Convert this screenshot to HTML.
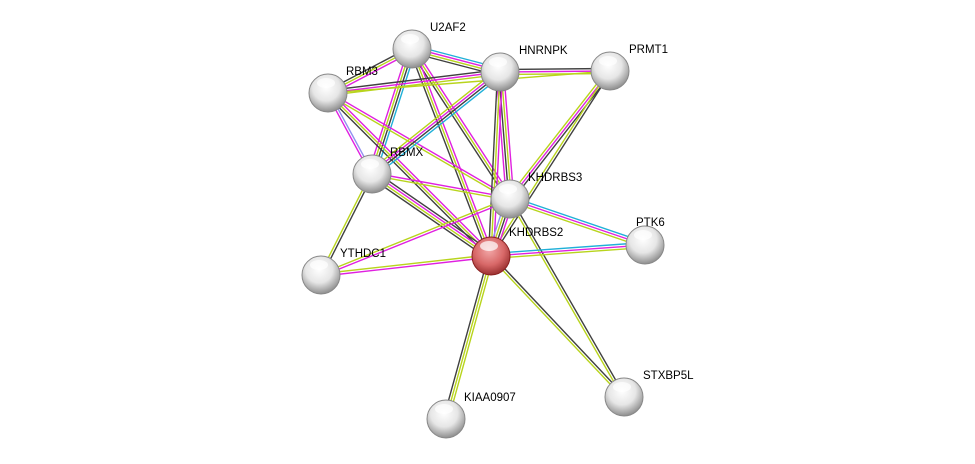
<!DOCTYPE html>
<html><head><meta charset="utf-8">
<style>
html,body{margin:0;padding:0;background:#fff;}
svg{display:block;}
text{font-family:"Liberation Sans",sans-serif;font-size:11.5px;fill:#000;}
</style></head>
<body>
<svg id="s" width="975" height="464" xmlns="http://www.w3.org/2000/svg">
<defs>
<radialGradient id="gw" cx="45%" cy="35%" r="65%">
<stop offset="0" stop-color="#ffffff"/><stop offset="0.55" stop-color="#e6e6e6"/><stop offset="1" stop-color="#8e8e8e"/>
</radialGradient>
<radialGradient id="gr" cx="45%" cy="35%" r="65%">
<stop offset="0" stop-color="#f2a8a8"/><stop offset="0.6" stop-color="#d86868"/><stop offset="1" stop-color="#9a3030"/>
</radialGradient>
</defs>
<g id="edges"></g>
<g id="nodes"></g>
</svg>
<script>
var N={U2AF2:[412,49],HNRNPK:[500,72],PRMT1:[610,71],RBM3:[328,93],RBMX:[372,174],KHDRBS3:[510,199],PTK6:[645,245],KHDRBS2:[491,256],YTHDC1:[321,275],KIAA0907:[446,419],STXBP5L:[624,397]};
var C={m:"#e020e0",y:"#b8d41c",k:"#404040",c:"#20b0d8",b:"#9090f0"};
var E=[["U2AF2","HNRNPK","cmyk"],["U2AF2","RBM3","myk"],["U2AF2","RBMX","ckym"],["U2AF2","KHDRBS3","myk"],["U2AF2","KHDRBS2","myk"],
["RBM3","HNRNPK","kmy"],["RBM3","PRMT1","y"],["HNRNPK","PRMT1","kmy"],["RBM3","RBMX","bm"],["RBM3","KHDRBS3","my"],["RBM3","KHDRBS2","myk"],
["HNRNPK","RBMX","ckmy"],["HNRNPK","KHDRBS3","mykm"],["HNRNPK","KHDRBS2","myk"],["PRMT1","KHDRBS3","kmy"],["PRMT1","KHDRBS2","ky"],
["RBMX","KHDRBS3","my"],["RBMX","KHDRBS2","kmyk"],["RBMX","YTHDC1","ky"],["KHDRBS3","KHDRBS2","mkyb"],["KHDRBS3","PTK6","cmy"],
["KHDRBS3","YTHDC1","my"],["KHDRBS3","STXBP5L","ky"],["KHDRBS2","PTK6","cmy"],["KHDRBS2","YTHDC1","my"],["KHDRBS2","KIAA0907","yyk"],["KHDRBS2","STXBP5L","ky"]];
var ns="http://www.w3.org/2000/svg",eg=document.getElementById("edges"),ng=document.getElementById("nodes");
E.forEach(function(e){var a=N[e[0]],b=N[e[1]],dx=b[0]-a[0],dy=b[1]-a[1],L=Math.hypot(dx,dy),px=-dy/L,py=dx/L,n=e[2].length;
for(var i=0;i<n;i++){var o=(i-(n-1)/2)*2.5,l=document.createElementNS(ns,"line");
l.setAttribute("x1",a[0]+px*o);l.setAttribute("y1",a[1]+py*o);l.setAttribute("x2",b[0]+px*o);l.setAttribute("y2",b[1]+py*o);
l.setAttribute("stroke",C[e[2][i]]);l.setAttribute("stroke-width","1.4");eg.appendChild(l);}});
var LB={U2AF2:[18,-22],HNRNPK:[19,-22],PRMT1:[19,-22],RBM3:[18,-22],RBMX:[18,-22],KHDRBS3:[18,-22],PTK6:[-9,-23],KHDRBS2:[18,-24],YTHDC1:[19,-22],KIAA0907:[18,-22],STXBP5L:[19,-22]};
for(var k in N){var p=N[k],c=document.createElementNS(ns,"circle");c.setAttribute("cx",p[0]);c.setAttribute("cy",p[1]);c.setAttribute("r",19);
c.setAttribute("fill",k=="KHDRBS2"?"url(#gr)":"url(#gw)");c.setAttribute("stroke",k=="KHDRBS2"?"#8a2020":"#888");c.setAttribute("stroke-width","1");ng.appendChild(c);
var h=document.createElementNS(ns,"ellipse");h.setAttribute("cx",p[0]-2);h.setAttribute("cy",p[1]-10);h.setAttribute("rx",9);h.setAttribute("ry",5);h.setAttribute("fill","#fff");h.setAttribute("opacity","0.7");ng.appendChild(h);
var t=document.createElementNS(ns,"text");t.setAttribute("x",p[0]+LB[k][0]);t.setAttribute("y",p[1]+LB[k][1]+4);t.textContent=k;ng.appendChild(t);}
</script>
</body></html>
